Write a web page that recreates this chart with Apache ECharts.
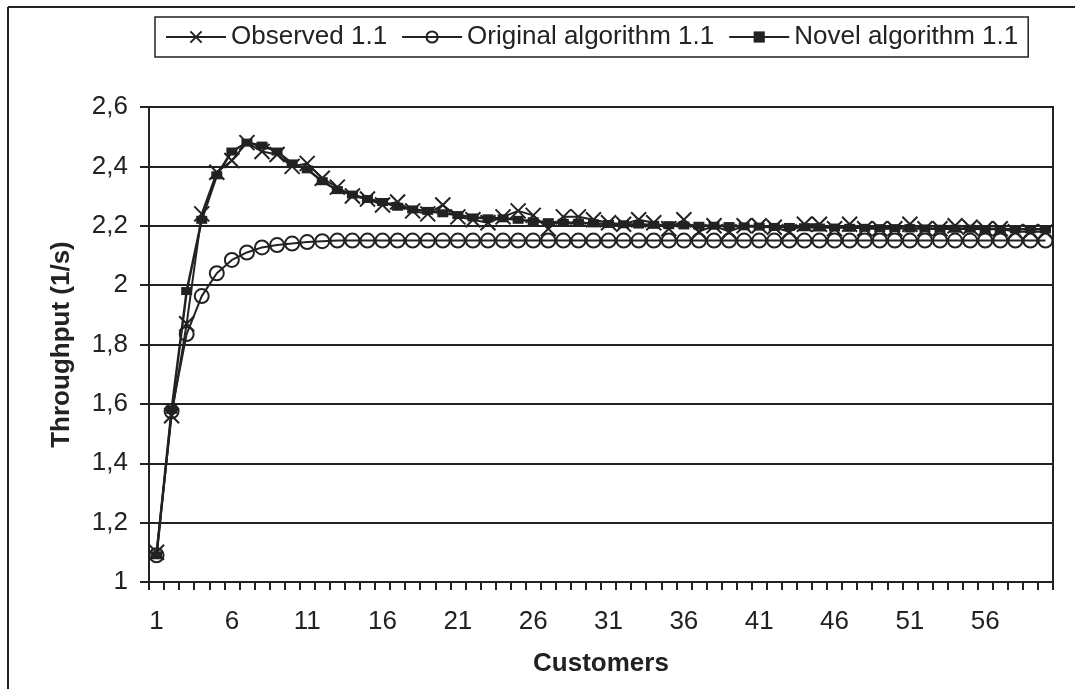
<!DOCTYPE html>
<html>
<head>
<meta charset="utf-8">
<script src="https://cdn.jsdelivr.net/npm/echarts@6/dist/echarts.min.js"></script>
<style>
html,body{margin:0;padding:0;background:#fff;}
#c{width:1075px;height:689px;}
</style>
</head>
<body>
<div id="c"></div>
<script>
var customers = [];
for (var i = 1; i <= 60; i++) customers.push(String(i));

var observed = [1.10,1.56,1.87,2.24,2.38,2.42,2.48,2.45,2.44,2.40,
  2.41,2.36,2.33,2.30,2.29,2.27,2.28,2.25,2.24,2.27,
  2.23,2.22,2.21,2.23,2.25,2.235,2.19,2.23,2.23,2.22,
  2.21,2.205,2.22,2.21,2.19,2.22,2.18,2.20,2.18,2.20,
  2.20,2.195,2.18,2.205,2.205,2.19,2.205,2.19,2.19,2.19,
  2.205,2.19,2.19,2.20,2.195,2.19,2.19,2.18,2.18,2.18];

var original = [1.09,1.575,1.835,1.963,2.04,2.085,2.11,2.127,2.135,2.14,
  2.145,2.148,2.15,2.15,2.15,2.15,2.15,2.15,2.15,2.15,
  2.15,2.15,2.15,2.15,2.15,2.15,2.15,2.15,2.15,2.15,
  2.15,2.15,2.15,2.15,2.15,2.15,2.15,2.15,2.15,2.15,
  2.15,2.15,2.15,2.15,2.15,2.15,2.15,2.15,2.15,2.15,
  2.15,2.15,2.15,2.15,2.15,2.15,2.15,2.15,2.15,2.15];

var novel = [1.09,1.58,1.98,2.22,2.37,2.45,2.48,2.47,2.45,2.41,
  2.39,2.35,2.32,2.305,2.29,2.28,2.264,2.255,2.25,2.242,
  2.236,2.228,2.225,2.225,2.22,2.215,2.212,2.21,2.21,2.208,
  2.206,2.205,2.204,2.203,2.202,2.201,2.20,2.20,2.199,2.198,
  2.197,2.196,2.196,2.195,2.194,2.194,2.193,2.193,2.192,2.192,
  2.191,2.191,2.19,2.19,2.19,2.189,2.189,2.188,2.188,2.188];

var seriesNames = ['Observed 1.1', 'Original algorithm 1.1', 'Novel algorithm 1.1'];
var xTitle = 'Customers';
var yTitle = 'Throughput (1/s)';

var FONT = '"Liberation Sans", Arial, sans-serif';
var chart = echarts.init(document.getElementById('c'));
var crossPath = 'path://M0,0L10,10M10,0L0,10';

chart.setOption({
  animation: false,
  backgroundColor: '#fff',
  textStyle: {fontFamily: FONT, color: '#222'},
  graphic: [
    {type: 'line', shape: {x1: 8, y1: 7, x2: 1075, y2: 7}, style: {stroke: '#222', lineWidth: 2}},
    {type: 'line', shape: {x1: 8, y1: 7, x2: 8, y2: 689}, style: {stroke: '#222', lineWidth: 2}}
  ],
  legend: {
    left: 155, top: 17,
    padding: [7, 10, 7, 10],
    borderColor: '#222', borderWidth: 1.5,
    itemWidth: 60, itemHeight: 14, itemGap: 14,
    textStyle: {fontSize: 26, fontFamily: FONT, color: '#222'},
    data: seriesNames
  },
  grid: {left: 149, right: 22, top: 107, bottom: 107, show: true, borderColor: '#222', borderWidth: 2},
  xAxis: {
    type: 'category', data: customers, boundaryGap: true,
    name: xTitle, nameLocation: 'middle', nameGap: 69,
    nameTextStyle: {fontSize: 26, fontWeight: 'bold', fontFamily: FONT, color: '#222'},
    axisLine: {lineStyle: {color: '#222', width: 2}},
    axisTick: {show: true, interval: 0, length: 8, lineStyle: {color: '#222', width: 2}},
    axisLabel: {interval: 4, margin: 27, fontSize: 26, fontFamily: FONT, color: '#222'},
    splitLine: {show: false}
  },
  yAxis: {
    type: 'value', min: 1, max: 2.6, interval: 0.2,
    name: yTitle, nameLocation: 'middle', nameGap: 74, nameRotate: 90,
    nameTextStyle: {fontSize: 26, fontWeight: 'bold', fontFamily: FONT, color: '#222'},
    axisLine: {show: true, lineStyle: {color: '#222', width: 2}},
    axisTick: {show: true, length: 9, lineStyle: {color: '#222', width: 2}},
    axisLabel: {margin: 21, fontSize: 26, fontFamily: FONT, color: '#222',
      formatter: function (v) { return String(Math.round(v * 10) / 10).replace('.', ','); }},
    splitLine: {show: true, lineStyle: {color: '#222', width: 2}}
  },
  series: [
    {name: seriesNames[2], type: 'line', data: novel, symbol: 'rect', symbolSize: [11, 8], showAllSymbol: true,
      lineStyle: {color: '#222', width: 2.5}, itemStyle: {color: '#222'}, z: 3},
    {name: seriesNames[1], type: 'line', data: original, symbol: 'circle', symbolSize: 14, showAllSymbol: true,
      lineStyle: {color: '#222', width: 2}, itemStyle: {color: 'rgba(0,0,0,0)', borderColor: '#222', borderWidth: 2}, z: 4},
    {name: seriesNames[0], type: 'line', data: observed, symbol: crossPath, symbolSize: 15, showAllSymbol: true,
      lineStyle: {color: '#222', width: 2}, itemStyle: {color: 'rgba(0,0,0,0)', borderColor: '#222', borderWidth: 2}, z: 5}
  ]
});
</script>
</body>
</html>
